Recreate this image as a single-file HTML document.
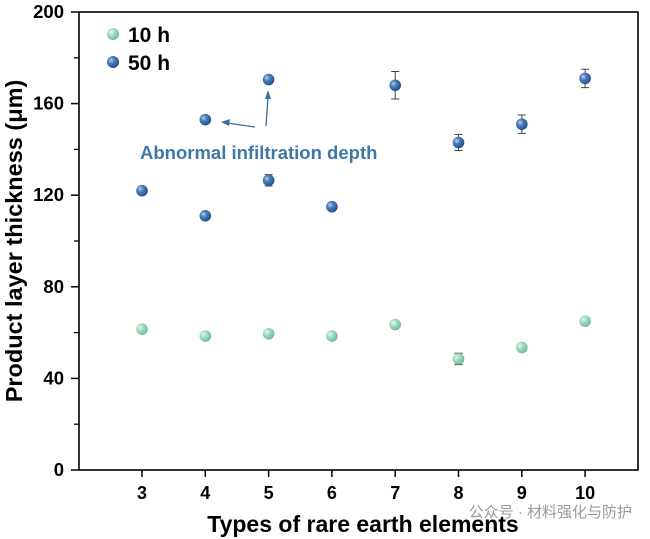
<!DOCTYPE html>
<html><head><meta charset="utf-8"><style>
body{margin:0;background:#fff;}
svg{display:block;font-family:"Liberation Sans",Arial,sans-serif;}
</style></head><body>
<svg id="chart" width="650" height="539" viewBox="0 0 650 539">
<defs>
<radialGradient id="gb" cx="35%" cy="35%" r="70%"><stop offset="0" stop-color="#b9d3f0"/><stop offset="0.35" stop-color="#4f82c0"/><stop offset="1" stop-color="#1d4a86"/></radialGradient>
<radialGradient id="gg" cx="35%" cy="35%" r="70%"><stop offset="0" stop-color="#e6f7ee"/><stop offset="0.4" stop-color="#a3dcc0"/><stop offset="1" stop-color="#6ab898"/></radialGradient>
</defs>
<g id="axes"></g>
<g id="marks"></g>
<g>
<circle cx="113" cy="34" r="6" fill="url(#gg)"/>
<text x="128" y="42" font-size="21" font-weight="bold">10 h</text>
<circle cx="113" cy="62" r="6" fill="url(#gb)"/>
<text x="128" y="70" font-size="21" font-weight="bold">50 h</text>
</g>
<g stroke="#3a6f9a" stroke-width="1.3" fill="#3a6f9a">
<line x1="255" y1="127" x2="227" y2="123"/><polygon points="221,122 230,119 229,126" stroke="none"/>
<line x1="266" y1="126" x2="268" y2="97"/><polygon points="268,90 271,99 265,99" stroke="none"/>
</g>
<text x="140" y="159" font-size="18.5" font-weight="bold" fill="#3f78a6">Abnormal infiltration depth</text>
<text x="363" y="532" font-size="23" font-weight="bold" text-anchor="middle">Types of rare earth elements</text>
<text transform="translate(22,241) rotate(-90)" font-size="23.5" font-weight="bold" text-anchor="middle">Product layer thickness (μm)</text>
<text x="632" y="517" font-size="15" fill="#999" text-anchor="end" font-family="'Liberation Sans','Noto Sans CJK SC',sans-serif">公众号 · 材料强化与防护</text>
</svg>
<script>
const xTicks=[3,4,5,6,7,8,9,10];
const yTicks=[0,40,80,120,160,200];
const yMinor=[20,60,100,140,180];
const x10=[3,4,5,6,7,8,9,10];
const v10=[61.5,58.5,59.5,58.5,63.5,48.5,53.5,65];
const e10=[0,0,0,0,0,2.5,0,1.5];
const x50=[3,4,4,5,5,6,7,8,9,10];
const v50=[122,111,153,126.5,170.5,115,168,143,151,171];
const e50=[0,0,0,2.5,0,0,6,3.5,4,4];
const L=79,R=638,T=12,B=470;
const X=v=>142+(v-3)*63.3;
const Y=v=>B-v*(B-T)/200;
const NS='http://www.w3.org/2000/svg';
function mk(p,t,a){const e=document.createElementNS(NS,t);for(const k in a)e.setAttribute(k,a[k]);p.appendChild(e);return e;}
const ax=document.getElementById('axes'),mg=document.getElementById('marks');
const frame=mk(ax,'rect',{x:L,y:T,width:R-L,height:B-T,fill:'none',stroke:'#000','stroke-width':1.6});


xTicks.forEach(v=>{
const t=mk(ax,'line',{x1:X(v),x2:X(v),y1:B,y2:B+7,stroke:'#000','stroke-width':1.5});


const l=mk(ax,'text',{x:X(v),y:B+29,'font-size':18,'font-weight':'bold','text-anchor':'middle'});l.textContent=v;


});
yTicks.forEach(v=>{
const t=mk(ax,'line',{x1:L-8,x2:L,y1:Y(v),y2:Y(v),stroke:'#000','stroke-width':1.5});


const l=mk(ax,'text',{x:L-15,y:Y(v)+6,'font-size':18.5,'font-weight':'bold','text-anchor':'end'});l.textContent=v;


});
yMinor.forEach(v=>{
const t=mk(ax,'line',{x1:L-5,x2:L,y1:Y(v),y2:Y(v),stroke:'#000','stroke-width':1.3});


});
function series(xs,vs,es,fill,name){
xs.forEach((xv,i)=>{
const cx=X(xv),cy=Y(vs[i]);
if(es[i]>0){
const e=mk(mg,'path',{d:`M${cx},${Y(vs[i]+es[i])}V${Y(vs[i]-es[i])}M${cx-4},${Y(vs[i]+es[i])}h8M${cx-4},${Y(vs[i]-es[i])}h8`,stroke:'#444','stroke-width':1,fill:'none'});


}
const c=mk(mg,'circle',{cx:cx,cy:cy,r:5.8,fill:fill});


});
}
series(x10,v10,e10,'url(#gg)','series-10h');
series(x50,v50,e50,'url(#gb)','series-50h');
</script>
</body></html>
